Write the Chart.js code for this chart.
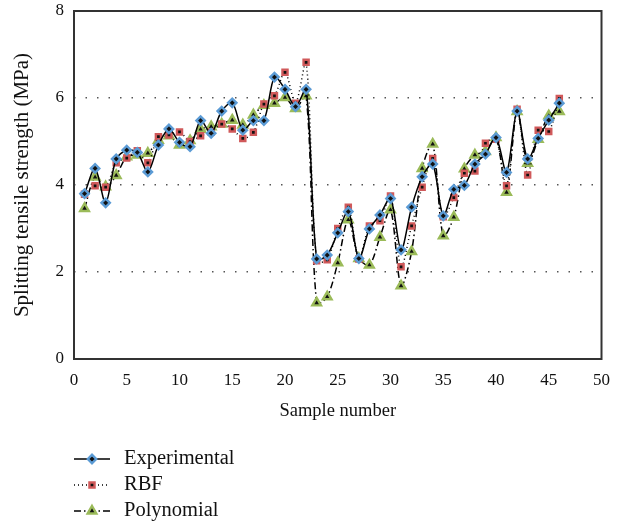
<!DOCTYPE html>
<html>
<head>
<meta charset="utf-8">
<script src="https://cdn.jsdelivr.net/npm/chart.js@4.4.1/dist/chart.umd.min.js"></script>
<style>
  html, body { margin: 0; padding: 0; background: #fff; }
  #wrap { width: 621px; height: 525px; }
</style>
</head>
<body>
<div id="wrap"><canvas id="myChart" width="621" height="525"></canvas></div>
<script>
// Sample numbers 1..46
const sampleNumbers = [1, 2, 3, 4, 5, 6, 7, 8, 9, 10, 11, 12, 13, 14, 15, 16, 17, 18, 19, 20, 21, 22, 23,
  24, 25, 26, 27, 28, 29, 30, 31, 32, 33, 34, 35, 36, 37, 38, 39, 40, 41, 42, 43, 44, 45, 46];

const experimental = [3.8, 4.38, 3.59, 4.6, 4.8, 4.75, 4.3, 4.92, 5.29, 4.98, 4.88, 5.48, 5.19, 5.7, 5.89, 5.26,
  5.48, 5.48, 6.48, 6.2, 5.8, 6.2, 2.3, 2.39, 2.9, 3.39, 2.31, 2.99, 3.31, 3.69, 2.51, 3.49, 4.19, 4.48,
  3.29, 3.9, 3.99, 4.48, 4.71, 5.09, 4.29, 5.7, 4.6, 5.07, 5.49, 5.88];

const rbf = [3.79, 3.98, 3.95, 4.51, 4.62, 4.79, 4.51, 5.11, 5.15, 5.22, 5.0, 5.13, 5.22, 5.4, 5.29, 5.07,
  5.21, 5.86, 6.05, 6.59, 5.88, 6.82, 2.26, 2.28, 3.0, 3.49, 2.3, 3.06, 3.18, 3.75, 2.12, 3.06, 3.95, 4.61,
  3.27, 3.71, 4.27, 4.32, 4.96, 5.05, 3.98, 5.74, 4.23, 5.26, 5.23, 5.99];

const polynomial = [3.46, 4.18, 3.96, 4.22, 4.65, 4.69, 4.73, 5.03, 5.13, 4.92, 5.02, 5.28, 5.34, 5.4, 5.49, 5.38,
  5.61, 5.83, 5.88, 6.01, 5.76, 6.05, 1.29, 1.43, 2.21, 3.2, 2.31, 2.16, 2.8, 3.43, 1.68, 2.47, 4.38, 4.94,
  2.83, 3.26, 4.37, 4.69, 4.77, 5.09, 3.83, 5.69, 4.5, 5.05, 5.59, 5.69];

const xTicks = [0, 5, 10, 15, 20, 25, 30, 35, 40, 45, 50];
const yTicks = [0, 2, 4, 6, 8];

const serif = "'Liberation Serif', 'DejaVu Serif', serif";

function toPoints(values) {
  return values.map((v, i) => ({ x: sampleNumbers[i], y: v }));
}

const seriesStyles = [
  { label: "Experimental", data: experimental, dash: [], pointStyle: "rectRot", marker: "#5b9bd5", radius: 4.2 },
  { label: "RBF", data: rbf, dash: [1, 3], pointStyle: "rect", marker: "#d0595a", radius: 3.6 },
  { label: "Polynomial", data: polynomial, dash: [7, 3, 1.5, 3], pointStyle: "triangle", marker: "#9bbb59", radius: 5 },
];

// frame around the plot area
const framePlugin = {
  id: "frame",
  afterDraw(chart) {
    const { ctx, chartArea: a } = chart;
    ctx.save();
    ctx.strokeStyle = "#333";
    ctx.lineWidth = 2;
    ctx.strokeRect(a.left, a.top, a.right - a.left, a.bottom - a.top);
    ctx.restore();
  },
};

// legend below the chart, drawn by hand to get line + marker samples
const legendPlugin = {
  id: "customLegend",
  afterDraw(chart) {
    const ctx = chart.ctx;
    const rows = [459, 485, 511];
    ctx.save();
    chart.data.datasets.forEach((ds, i) => {
      const y = rows[i];
      ctx.strokeStyle = "#000";
      ctx.lineWidth = 1.5;
      ctx.setLineDash(ds.borderDash || []);
      ctx.beginPath();
      ctx.moveTo(74, y);
      ctx.lineTo(110, y);
      ctx.stroke();
      ctx.setLineDash([]);
      ctx.fillStyle = ds.pointBackgroundColor;
      ctx.strokeStyle = ds.pointBorderColor;
      ctx.lineWidth = ds.pointBorderWidth;
      Chart.helpers.drawPoint(ctx, { pointStyle: ds.pointStyle, radius: ds.pointRadius, borderWidth: ds.pointBorderWidth }, 92, y);
      ctx.fillStyle = "#111";
      ctx.font = "20.5px " + serif;
      ctx.textBaseline = "middle";
      ctx.textAlign = "left";
      ctx.fillText(ds.label, 124, y);
    });
    ctx.restore();
  },
};

const ctx = document.getElementById("myChart").getContext("2d");

new Chart(ctx, {
  type: "line",
  data: {
    datasets: seriesStyles.map((s) => ({
      label: s.label,
      data: toPoints(s.data),
      borderColor: "#000",
      borderWidth: 1.5,
      borderDash: s.dash,
      tension: 0.3,
      fill: false,
      pointStyle: s.pointStyle,
      pointRadius: s.radius,
      pointHoverRadius: s.radius,
      pointBackgroundColor: "#111",
      pointBorderColor: s.marker,
      pointBorderWidth: 2.4,
    })),
  },
  options: {
    responsive: false,
    animation: false,
    layout: { padding: { top: 11, right: 19, bottom: 99, left: 6 } },
    plugins: {
      legend: { display: false },
      title: { display: false },
      tooltip: { enabled: false },
    },
    scales: {
      x: {
        type: "linear",
        min: 0,
        max: 50,
        afterBuildTicks(axis) {
          axis.ticks = xTicks.map((v) => ({ value: v }));
        },
        afterFit(axis) {
          axis.height = 67;
        },
        grid: { display: false, drawTicks: false },
        border: { display: false },
        ticks: { color: "#111", font: { family: serif, size: 17 }, padding: 11, maxRotation: 0 },
        title: {
          display: true,
          text: "Sample number",
          color: "#111",
          font: { family: serif, size: 18.5 },
          padding: { top: 20 },
        },
      },
      y: {
        min: 0,
        max: 8,
        afterBuildTicks(axis) {
          axis.ticks = yTicks.map((v) => ({ value: v }));
        },
        afterFit(axis) {
          axis.width = 68;
          axis.paddingTop = 0;
          axis.paddingBottom = 0;
        },
        grid: {
          drawTicks: false,
          color: (c) => (c.tick && (c.tick.value === 0 || c.tick.value === 8) ? "rgba(0,0,0,0)" : "#555"),
          lineWidth: 1.5,
        },
        border: { display: false, dash: [1.5, 10] },
        ticks: { color: "#111", font: { family: serif, size: 17 }, padding: 10 },
        title: {
          display: true,
          text: "Splitting tensile strength (MPa)",
          color: "#111",
          font: { family: serif, size: 21 },
          padding: { bottom: 4 },
        },
      },
    },
  },
  plugins: [framePlugin, legendPlugin],
});
</script>
</body>
</html>
